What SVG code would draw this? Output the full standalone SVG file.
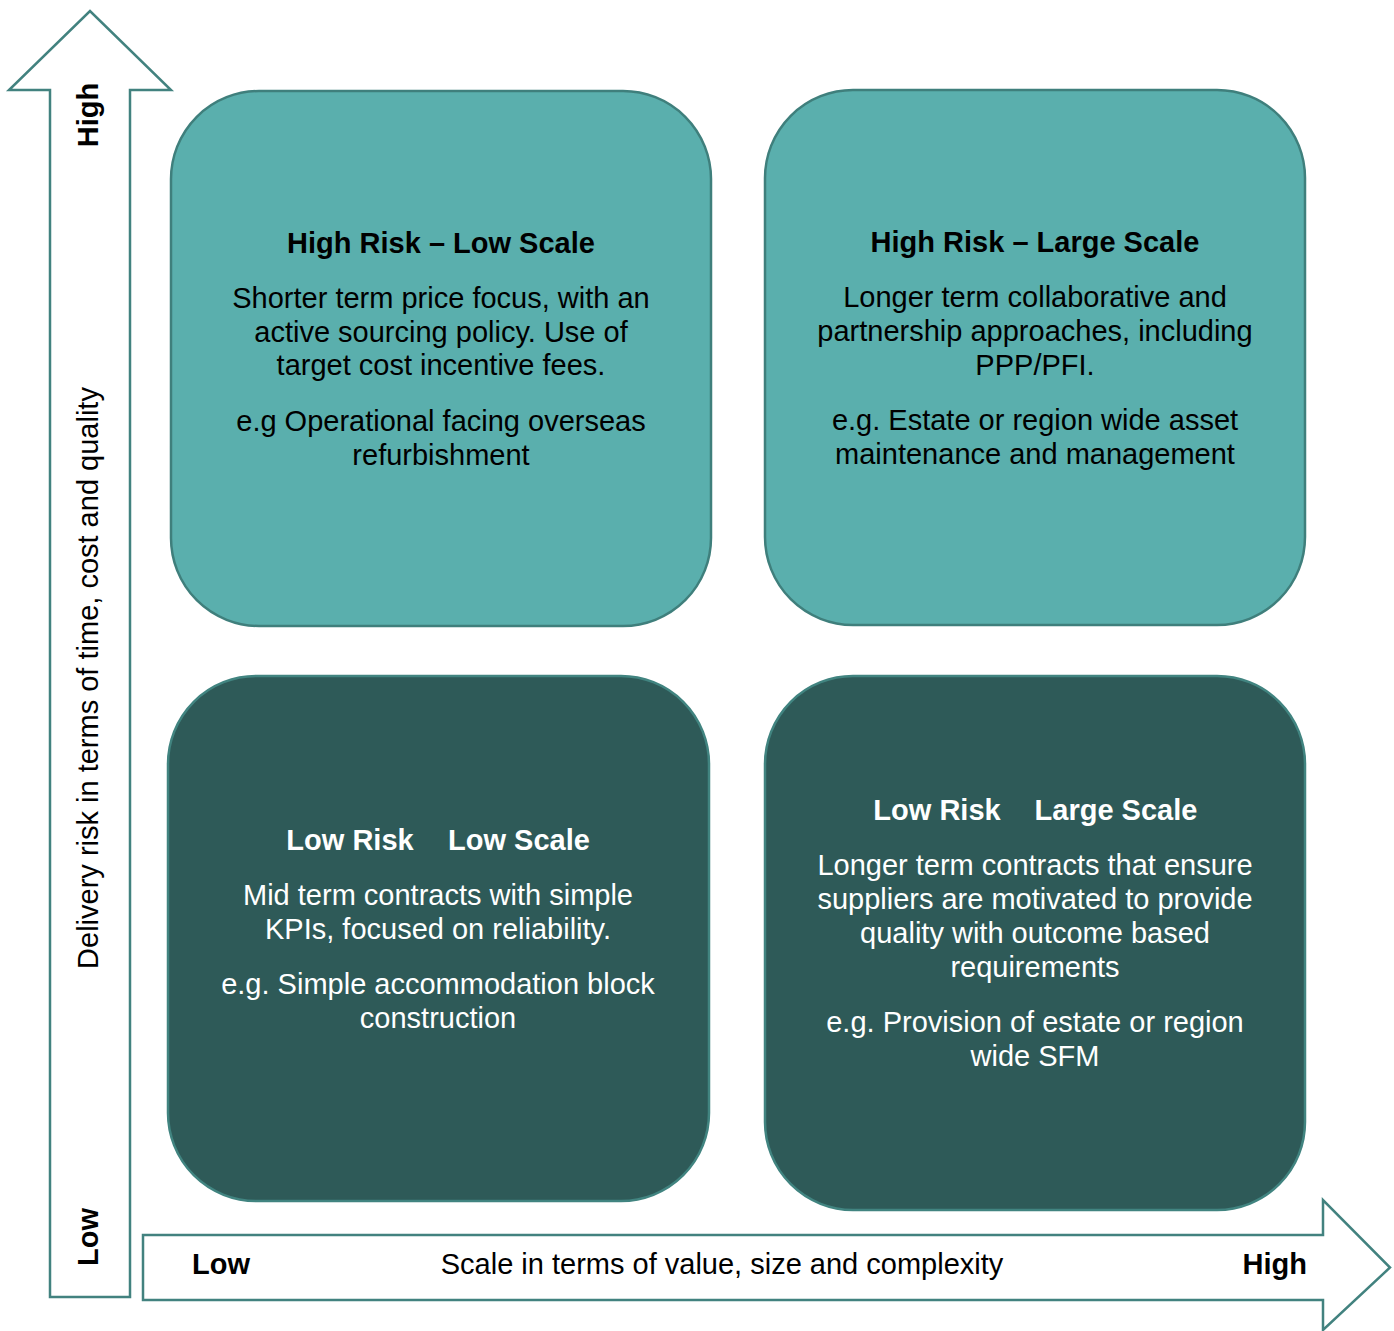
<svg xmlns="http://www.w3.org/2000/svg" width="1394" height="1331" viewBox="0 0 1394 1331">
  <style>
    .axis { fill: #ffffff; stroke: #42827f; stroke-width: 2.5; }
    .hi { fill: #5aafad; stroke: #3f7f7c; stroke-width: 2.5; }
    .lo { fill: #2e5a58; stroke: #418480; stroke-width: 2.5; }
    text { font-family: "Liberation Sans", Arial, sans-serif; font-size: 29px; text-anchor: middle; }
    .b { font-weight: bold; }
    .dk { fill: #000000; }
    .wt { fill: #ffffff; }
  </style>
  <rect width="1394" height="1331" fill="#ffffff"/>

  <!-- axes -->
  <g id="connectors">
    <path id="y-axis" class="axis" d="M50,1297 L50,90 L9,90 L90,11 L171,90 L130,90 L130,1297 Z"/>
    <path id="x-axis" class="axis" d="M143,1235 L1323,1235 L1323,1200 L1390,1267.5 L1323,1330 L1323,1300 L143,1300 Z"/>
  </g>

  <g id="y-axis-labels" class="dk">
    <text class="b" transform="translate(98,115) rotate(-90)">High</text>
    <text class="b" transform="translate(98,1237) rotate(-90)">Low</text>
    <text transform="translate(98,678) rotate(-90)">Delivery risk in terms of time, cost and quality</text>
  </g>

  <g id="x-axis-labels" class="dk">
    <text class="b" x="192" y="1274" style="text-anchor:start">Low</text>
    <text x="722" y="1274">Scale in terms of value, size and complexity</text>
    <text class="b" x="1307" y="1274" style="text-anchor:end">High</text>
  </g>

  <g id="high-risk-low-scale">
    <rect class="hi" x="171" y="91" width="540" height="535" rx="88" ry="88"/>
    <g class="dk">
      <text class="b" x="441" y="253">High Risk – Low Scale</text>
      <text x="441" y="308">Shorter term price focus, with an</text>
      <text x="441" y="342">active sourcing policy. Use of</text>
      <text x="441" y="375">target cost incentive fees.</text>
      <text x="441" y="431">e.g Operational facing overseas</text>
      <text x="441" y="465">refurbishment</text>
    </g>
  </g>

  <g id="high-risk-large-scale">
    <rect class="hi" x="765" y="90" width="540" height="535" rx="88" ry="88"/>
    <g class="dk">
      <text class="b" x="1035" y="252">High Risk – Large Scale</text>
      <text x="1035" y="307">Longer term collaborative and</text>
      <text x="1035" y="341">partnership approaches, including</text>
      <text x="1035" y="375">PPP/PFI.</text>
      <text x="1035" y="430">e.g. Estate or region wide asset</text>
      <text x="1035" y="464">maintenance and management</text>
    </g>
  </g>

  <g id="low-risk-low-scale">
    <rect class="lo" x="168" y="676" width="541" height="525" rx="88" ry="88"/>
    <g class="wt">
      <text class="b" x="350" y="850">Low Risk</text>
      <text class="b" x="519" y="850">Low Scale</text>
      <text x="438" y="905">Mid term contracts with simple</text>
      <text x="438" y="939">KPIs, focused on reliability.</text>
      <text x="438" y="994">e.g. Simple accommodation block</text>
      <text x="438" y="1028">construction</text>
    </g>
  </g>

  <g id="low-risk-large-scale">
    <rect class="lo" x="765" y="676" width="540" height="534" rx="88" ry="88"/>
    <g class="wt">
      <text class="b" x="937" y="820">Low Risk</text>
      <text class="b" x="1116" y="820">Large Scale</text>
      <text x="1035" y="875">Longer term contracts that ensure</text>
      <text x="1035" y="909">suppliers are motivated to provide</text>
      <text x="1035" y="943">quality with outcome based</text>
      <text x="1035" y="977">requirements</text>
      <text x="1035" y="1032">e.g. Provision of estate or region</text>
      <text x="1035" y="1066">wide SFM</text>
    </g>
  </g>
</svg>
